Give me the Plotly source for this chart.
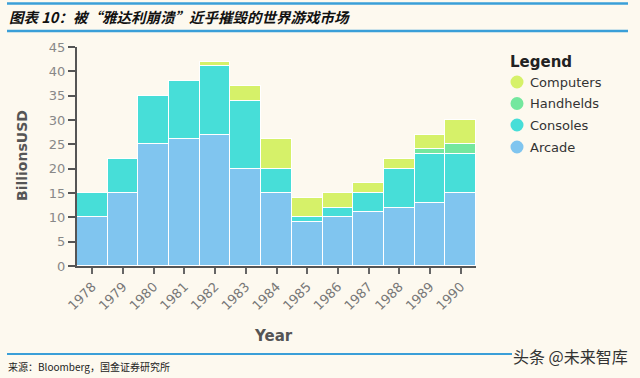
import plotly.graph_objects as go

years = ["1978", "1979", "1980", "1981", "1982", "1983", "1984",
         "1985", "1986", "1987", "1988", "1989", "1990"]
arcade = [10, 15, 25, 26, 27, 20, 15, 9, 10, 11, 12, 13, 15]
consoles = [5, 7, 10, 12, 14, 14, 5, 1, 2, 4, 8, 10, 8]
handhelds = [0, 0, 0, 0, 0, 0, 0, 0, 0, 0, 0, 1, 2]
computers = [0, 0, 0, 0, 1, 3, 6, 4, 3, 2, 2, 3, 5]
y_ticks = [0, 5, 10, 15, 20, 25, 30, 35, 40, 45]

series = [
    ("Arcade", arcade, "#80C5EF"),
    ("Consoles", consoles, "#47DED8"),
    ("Handhelds", handhelds, "#74E79E"),
    ("Computers", computers, "#D6F169"),
]

BG = "#FDF9EF"
BLUE = "#3A9FD8"
FONT = "DejaVu Sans"

L, R, T, B = 77, 164, 47, 112
W, H = 640, 378
pw = W - L - R
ph = H - T - B


def px(x):
    return (x - L) / pw


def py(y):
    return (H - B - y) / ph


fig = go.Figure()
for name, vals, col in series:
    fig.add_trace(go.Bar(
        x=years, y=vals, name=name, showlegend=False,
        marker=dict(color=col, line=dict(color="white", width=1.2)),
    ))

fig.update_layout(
    width=W, height=H,
    paper_bgcolor=BG, plot_bgcolor=BG,
    barmode="stack", bargap=0,
    margin=dict(l=L, r=R, t=T, b=B, autoexpand=False),
    font=dict(family=FONT, color="#777777"),
    showlegend=False,
    xaxis=dict(
        type="category", range=[-0.5, 12.5],
        tickangle=-45, tickfont=dict(size=13, color="#777777"),
        ticks="outside", ticklen=6, tickcolor="#666666", tickwidth=1.5,
        showline=True, linecolor="#555555", linewidth=2,
        showgrid=False, zeroline=False, automargin=False,
    ),
    yaxis=dict(
        range=[0, 45], tickvals=y_ticks,
        tickfont=dict(size=13, color="#888888"),
        ticks="outside", ticklen=7, tickcolor="#555555", tickwidth=1.5,
        showline=True, linecolor="#555555", linewidth=2,
        showgrid=False, zeroline=False, automargin=False,
    ),
)

shapes = [
    dict(type="line", xref="paper", yref="paper", x0=px(7), x1=px(628), y0=py(3.5), y1=py(3.5),
         line=dict(color=BLUE, width=2.5)),
    dict(type="line", xref="paper", yref="paper", x0=px(7), x1=px(628), y0=py(31), y1=py(31),
         line=dict(color=BLUE, width=2.5)),
    dict(type="line", xref="paper", yref="paper", x0=px(7), x1=px(512), y0=py(354), y1=py(354),
         line=dict(color=BLUE, width=2)),
]

# manual legend with circle markers
fig.add_annotation(
    text="<b>Legend</b>", xref="paper", yref="paper", x=px(508), y=py(62),
    xanchor="left", yanchor="middle", showarrow=False,
    font=dict(family=FONT, size=15, color="#222222"),
)
leg_y = [82, 103.5, 125, 147]
for (name, vals, col), yy in zip(list(reversed(series)), leg_y):
    r = 6.5
    shapes.append(dict(
        type="circle", xref="paper", yref="paper",
        x0=px(517 - r), x1=px(517 + r), y0=py(yy + r), y1=py(yy - r),
        fillcolor=col, line=dict(width=0),
    ))
    fig.add_annotation(
        text=name, xref="paper", yref="paper", x=px(528), y=py(yy),
        xanchor="left", yanchor="middle", showarrow=False,
        font=dict(family=FONT, size=13, color="#333333"),
    )

fig.update_layout(shapes=shapes)

# axis titles
fig.add_annotation(
    text="<b>BillionsUSD</b>", xref="paper", yref="paper", x=px(22), y=py(156),
    xanchor="center", yanchor="middle", textangle=-90, showarrow=False,
    font=dict(family=FONT, size=14, color="#555555"),
)
fig.add_annotation(
    text="<b>Year</b>", xref="paper", yref="paper", x=px(273), y=py(336),
    xanchor="center", yanchor="middle", showarrow=False,
    font=dict(family=FONT, size=15, color="#555555"),
)

fig.add_annotation(
    text="<b><i>图表 10：被“雅达利崩溃”近乎摧毁的世界游戏市场</i></b>",
    xref="paper", yref="paper", x=px(7), y=py(17), xanchor="left", yanchor="middle",
    showarrow=False, font=dict(family="Noto Sans CJK SC", size=14.5, color="#111111"),
)
fig.add_annotation(
    text="来源：Bloomberg，国金证券研究所",
    xref="paper", yref="paper", x=px(6), y=py(366), xanchor="left", yanchor="middle",
    showarrow=False, font=dict(family="Noto Sans CJK SC", size=10, color="#222222"),
)
fig.add_annotation(
    text="头条 @未来智库",
    xref="paper", yref="paper", x=px(511), y=py(356), xanchor="left", yanchor="middle",
    showarrow=False, font=dict(family="Noto Sans CJK SC", size=16, color="#333333"),
)

fig.write_html(
    "out.html",
    config={"displayModeBar": False},
    post_script="document.body.style.margin='0';document.body.style.padding='0';",
)
